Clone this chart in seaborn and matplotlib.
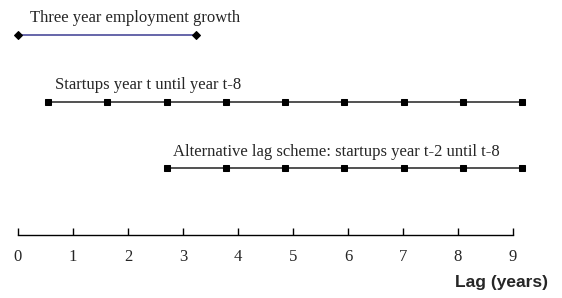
import matplotlib
matplotlib.use('Agg')
import seaborn as sns
import matplotlib.pyplot as plt

# lag positions (years) for each scheme
growth_x = [0, 3]
startups_x = [0.5, 1.5, 2.5, 3.5, 4.5, 5.5, 6.5, 7.5, 8.5]
alt_x = [2.5, 3.5, 4.5, 5.5, 6.5, 7.5, 8.5]

labels = ['Three year employment growth',
          'Startups year t until year t-8',
          'Alternative lag scheme: startups year t-2 until t-8']
rows = [3, 2, 1]
ticks = list(range(10))

sns.set_style('white')
plt.rcParams['font.family'] = ['Liberation Serif', 'DejaVu Serif']

fig = plt.figure(figsize=(5.62, 2.98), dpi=100)

# the bars of the schematic are drawn on a slightly wider scale than the axis
ax = fig.add_axes([18.4/562, 63/298, 533.6/562, 233.3/298])
axis_ax = fig.add_axes([18/562, 63/298, 495/562, 233.3/298])
axis_ax.patch.set_alpha(0)
ax.patch.set_alpha(0)

sns.lineplot(x=growth_x, y=[rows[0]] * len(growth_x), ax=ax, color='#4b4b9b',
             lw=1.2, marker='D', markersize=4, markerfacecolor='black',
             markeredgecolor='black', clip_on=False)
sns.lineplot(x=startups_x, y=[rows[1]] * len(startups_x), ax=ax, color='#333333',
             lw=1.2, marker='s', markersize=5, markerfacecolor='black',
             markeredgecolor='black', clip_on=False)
sns.lineplot(x=alt_x, y=[rows[2]] * len(alt_x), ax=ax, color='#333333',
             lw=1.2, marker='s', markersize=5, markerfacecolor='black',
             markeredgecolor='black', clip_on=False)

label_x = [0.196, 0.62, 2.61]
for lx, r, t in zip(label_x, rows, labels):
    ax.text(lx, r + 0.25, t, fontsize=12, va='center', ha='left')

ax.set_xlim(0, 9)
ax.set_ylim(0, 3.5)
ax.axis('off')

axis_ax.set_xlim(0, 9)
axis_ax.set_ylim(0, 3.5)
axis_ax.set_xticks(ticks)
axis_ax.set_xticklabels([str(t) for t in ticks], fontsize=12)
axis_ax.set_yticks([])
for s in ['top', 'left', 'right']:
    axis_ax.spines[s].set_visible(False)
axis_ax.spines['bottom'].set_color('black')
axis_ax.spines['bottom'].set_linewidth(1)
axis_ax.tick_params(axis='x', direction='in', length=5, width=1, color='black',
                    pad=10, bottom=True)

fig.text(548/562, 1 - 283/298, 'Lag (years)', ha='right', va='center',
         fontsize=12.5, fontweight='bold', family=['Liberation Sans', 'DejaVu Sans'])

fig.savefig('out.png', dpi=100)
